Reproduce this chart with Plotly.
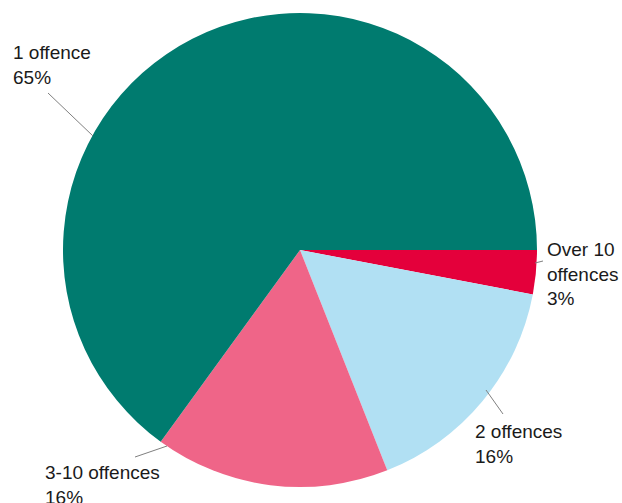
import plotly.graph_objects as go

# ---- data ----
categories = ["Over 10 offences", "2 offences", "3-10 offences", "1 offence"]
display_names = ["Over 10<br>offences", "2 offences", "3-10 offences", "1 offence"]
shares = [3, 16, 16, 65]
colors = ["#E4003B", "#B1E0F3", "#EF6588", "#007B6F"]

W, H = 622, 503

# ---- label layout (pixels: text top-left, leader line start/end) ----
label_layout = {
    "1 offence":        dict(tx=11, ty=40, line=((93, 136), (48, 93))),
    "Over 10 offences": dict(tx=545, ty=237, line=((535, 263), (543, 261))),
    "3-10 offences":    dict(tx=43, ty=460, line=((167, 446), (135, 457))),
    "2 offences":       dict(tx=473, ty=419, line=((486, 390), (503, 414))),
}

def px(x):
    return x / W

def py(y):
    return 1 - y / H

fig = go.Figure(go.Pie(
    labels=categories,
    values=shares,
    sort=False,
    direction="clockwise",
    rotation=90,
    marker=dict(colors=colors, line=dict(width=0)),
    textinfo="none",
    hoverinfo="label+percent",
    domain=dict(x=[px(63), px(537)], y=[py(487), py(13)]),
    showlegend=False,
))

annotations = []
shapes = []
for cat, name, val in zip(categories, display_names, shares):
    L = label_layout[cat]
    annotations.append(dict(
        x=px(L["tx"]), y=py(L["ty"]), xref="paper", yref="paper",
        xanchor="left", yanchor="top", align="left", showarrow=False,
        text=f"{name}<br>{val}%",
        font=dict(family="Liberation Sans, Arial, sans-serif", size=19, color="#1a1a1a"),
    ))
    (x0, y0), (x1, y1) = L["line"]
    shapes.append(dict(
        type="line", xref="paper", yref="paper",
        x0=px(x0), y0=py(y0), x1=px(x1), y1=py(y1),
        line=dict(color="#808080", width=1),
    ))

fig.update_layout(
    width=W, height=H,
    margin=dict(l=0, r=0, t=0, b=0),
    paper_bgcolor="white",
    plot_bgcolor="white",
    annotations=annotations,
    shapes=shapes,
)

fig.write_html(
    "out.html",
    config={"displayModeBar": False},
    post_script="document.body.style.margin='0';",
)
